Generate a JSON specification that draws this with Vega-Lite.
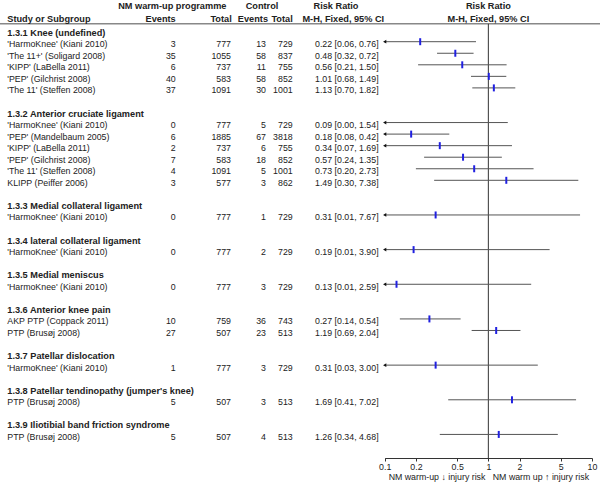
{
  "$schema": "https://vega.github.io/schema/vega-lite/v6.json",
  "width": 600,
  "height": 458,
  "autosize": "none",
  "padding": {"left": 0, "right": 0, "top": 0, "bottom": 30},
  "background": "white",
  "config": {
    "view": {"stroke": null},
    "text": {"font": "Liberation Sans", "fontSize": 8.8, "color": "#222", "dy": 2.5}
  },
  "datasets": {
    "studies": [
      {"row": 1, "study": "'HarmoKnee' (Kiani 2010)", "e1": 3, "n1": 777, "e2": 13, "n2": 729, "rr": 0.22, "lo": 0.06, "hi": 0.76, "ci": "0.22 [0.06, 0.76]"},
      {"row": 2, "study": "'The 11+' (Soligard 2008)", "e1": 35, "n1": 1055, "e2": 58, "n2": 837, "rr": 0.48, "lo": 0.32, "hi": 0.72, "ci": "0.48 [0.32, 0.72]"},
      {"row": 3, "study": "'KIPP' (LaBella 2011)", "e1": 6, "n1": 737, "e2": 11, "n2": 755, "rr": 0.56, "lo": 0.21, "hi": 1.5, "ci": "0.56 [0.21, 1.50]"},
      {"row": 4, "study": "'PEP' (Gilchrist 2008)", "e1": 40, "n1": 583, "e2": 58, "n2": 852, "rr": 1.01, "lo": 0.68, "hi": 1.49, "ci": "1.01 [0.68, 1.49]"},
      {"row": 5, "study": "'The 11' (Steffen 2008)", "e1": 37, "n1": 1091, "e2": 30, "n2": 1001, "rr": 1.13, "lo": 0.7, "hi": 1.82, "ci": "1.13 [0.70, 1.82]"},
      {"row": 8, "study": "'HarmoKnee' (Kiani 2010)", "e1": 0, "n1": 777, "e2": 5, "n2": 729, "rr": 0.09, "lo": 0.0, "hi": 1.54, "ci": "0.09 [0.00, 1.54]"},
      {"row": 9, "study": "'PEP' (Mandelbaum 2005)", "e1": 6, "n1": 1885, "e2": 67, "n2": 3818, "rr": 0.18, "lo": 0.08, "hi": 0.42, "ci": "0.18 [0.08, 0.42]"},
      {"row": 10, "study": "'KIPP' (LaBella 2011)", "e1": 2, "n1": 737, "e2": 6, "n2": 755, "rr": 0.34, "lo": 0.07, "hi": 1.69, "ci": "0.34 [0.07, 1.69]"},
      {"row": 11, "study": "'PEP' (Gilchrist 2008)", "e1": 7, "n1": 583, "e2": 18, "n2": 852, "rr": 0.57, "lo": 0.24, "hi": 1.35, "ci": "0.57 [0.24, 1.35]"},
      {"row": 12, "study": "'The 11' (Steffen 2008)", "e1": 4, "n1": 1091, "e2": 5, "n2": 1001, "rr": 0.73, "lo": 0.2, "hi": 2.73, "ci": "0.73 [0.20, 2.73]"},
      {"row": 13, "study": "KLIPP (Peiffer 2006)", "e1": 3, "n1": 577, "e2": 3, "n2": 862, "rr": 1.49, "lo": 0.3, "hi": 7.38, "ci": "1.49 [0.30, 7.38]"},
      {"row": 16, "study": "'HarmoKnee' (Kiani 2010)", "e1": 0, "n1": 777, "e2": 1, "n2": 729, "rr": 0.31, "lo": 0.01, "hi": 7.67, "ci": "0.31 [0.01, 7.67]"},
      {"row": 19, "study": "'HarmoKnee' (Kiani 2010)", "e1": 0, "n1": 777, "e2": 2, "n2": 729, "rr": 0.19, "lo": 0.01, "hi": 3.9, "ci": "0.19 [0.01, 3.90]"},
      {"row": 22, "study": "'HarmoKnee' (Kiani 2010)", "e1": 0, "n1": 777, "e2": 3, "n2": 729, "rr": 0.13, "lo": 0.01, "hi": 2.59, "ci": "0.13 [0.01, 2.59]"},
      {"row": 25, "study": "AKP PTP (Coppack 2011)", "e1": 10, "n1": 759, "e2": 36, "n2": 743, "rr": 0.27, "lo": 0.14, "hi": 0.54, "ci": "0.27 [0.14, 0.54]"},
      {"row": 26, "study": "PTP (Brusøj 2008)", "e1": 27, "n1": 507, "e2": 23, "n2": 513, "rr": 1.19, "lo": 0.69, "hi": 2.04, "ci": "1.19 [0.69, 2.04]"},
      {"row": 29, "study": "'HarmoKnee' (Kiani 2010)", "e1": 1, "n1": 777, "e2": 3, "n2": 729, "rr": 0.31, "lo": 0.03, "hi": 3.0, "ci": "0.31 [0.03, 3.00]"},
      {"row": 32, "study": "PTP (Brusøj 2008)", "e1": 5, "n1": 507, "e2": 3, "n2": 513, "rr": 1.69, "lo": 0.41, "hi": 7.02, "ci": "1.69 [0.41, 7.02]"},
      {"row": 35, "study": "PTP (Brusøj 2008)", "e1": 5, "n1": 507, "e2": 4, "n2": 513, "rr": 1.26, "lo": 0.34, "hi": 4.68, "ci": "1.26 [0.34, 4.68]"}
    ],
    "sections": [
      {"row": 0, "title": "1.3.1 Knee (undefined)"},
      {"row": 7, "title": "1.3.2 Anterior cruciate ligament"},
      {"row": 15, "title": "1.3.3 Medial collateral ligament"},
      {"row": 18, "title": "1.3.4 lateral collateral ligament"},
      {"row": 21, "title": "1.3.5 Medial meniscus"},
      {"row": 24, "title": "1.3.6 Anterior knee pain"},
      {"row": 28, "title": "1.3.7 Patellar dislocation"},
      {"row": 31, "title": "1.3.8 Patellar tendinopathy (jumper's knee)"},
      {"row": 34, "title": "1.3.9 Iliotibial band friction syndrome"}
    ]
  },
  "layer": [
    {
      "data": {"values": [{}]},
      "mark": {"type": "rule", "color": "#888", "strokeWidth": 1.5},
      "encoding": {
        "y": {"datum": -0.55, "type": "quantitative", "scale": {"domain": [-2.61, 37.04], "reverse": true, "nice": false, "zero": false}, "axis": null}
      }
    },
    {
      "data": {"values": [{}]},
      "mark": {"type": "rule", "color": "#333", "strokeWidth": 1},
      "encoding": {
        "x": {"datum": 1, "type": "quantitative", "scale": {"type": "log", "domain": [0.1, 10], "range": [384.7, 592], "nice": false},
          "axis": {"orient": "bottom", "grid": false, "values": [0.1, 0.2, 0.5, 1, 2, 5, 10], "format": "~g", "domainColor": "#333", "tickColor": "#333", "tickSize": 3, "labelFont": "Liberation Sans", "labelFontSize": 8.8, "labelColor": "#222", "labelPadding": 1, "labelFlush": false, "labelOverlap": false, "title": "NM warm-up ↓ injury risk\u00a0\u00a0\u00a0NM warm up ↑ injury risk", "titleFont": "Liberation Sans", "titleFontSize": 8.8, "titleFontWeight": "normal", "titleColor": "#222", "titlePadding": 2}},
        "y": {"datum": -0.55, "type": "quantitative", "scale": {"domain": [-2.61, 37.04], "reverse": true, "nice": false, "zero": false}, "axis": null},
        "y2": {"datum": 37.04}
      }
    },
    {
      "data": {"name": "studies"},
      "mark": {"type": "rule", "color": "#555", "strokeWidth": 1, "invalid": "show"},
      "encoding": {
        "x": {"field": "lo", "type": "quantitative", "scale": {"type": "log", "domain": [0.1, 10], "range": [384.7, 592], "nice": false, "clamp": true}, "axis": null},
        "x2": {"field": "hi"},
        "y": {"field": "row", "type": "quantitative", "scale": {"domain": [-2.61, 37.04], "reverse": true, "nice": false, "zero": false}, "axis": null}
      }
    },
    {
      "data": {"name": "studies"},
      "transform": [{"filter": "datum.lo < 0.1"}],
      "mark": {"type": "point", "shape": "triangle-left", "filled": true, "color": "#111", "size": 14, "opacity": 1},
      "encoding": {
        "x": {"datum": 0.1, "type": "quantitative", "scale": {"type": "log", "domain": [0.1, 10], "range": [384.7, 592], "nice": false}, "axis": null},
        "y": {"field": "row", "type": "quantitative", "scale": {"domain": [-2.61, 37.04], "reverse": true, "nice": false, "zero": false}, "axis": null}
      }
    },
    {
      "data": {"name": "studies"},
      "transform": [{"filter": "datum.rr >= 0.1"}],
      "mark": {"type": "tick", "orient": "vertical", "color": "#2020e0", "thickness": 2, "size": 7, "opacity": 1},
      "encoding": {
        "x": {"field": "rr", "type": "quantitative", "scale": {"type": "log", "domain": [0.1, 10], "range": [384.7, 592], "nice": false}, "axis": null},
        "y": {"field": "row", "type": "quantitative", "scale": {"domain": [-2.61, 37.04], "reverse": true, "nice": false, "zero": false}, "axis": null}
      }
    },
    {
      "data": {"name": "studies"},
      "mark": {"type": "text", "align": "left"},
      "encoding": {
        "x": {"datum": "study", "type": "nominal", "scale": {"type": "point", "domain": ["study"], "range": [7.3, 7.3]}, "axis": null},
        "y": {"field": "row", "type": "quantitative", "scale": {"domain": [-2.61, 37.04], "reverse": true, "nice": false, "zero": false}, "axis": null},
        "text": {"field": "study"}
      }
    },
    {
      "data": {"name": "sections"},
      "mark": {"type": "text", "align": "left", "fontWeight": "bold", "fontSize": 9.2},
      "encoding": {
        "x": {"datum": "section", "type": "nominal", "scale": {"type": "point", "domain": ["section"], "range": [7.3, 7.3]}, "axis": null},
        "y": {"field": "row", "type": "quantitative", "scale": {"domain": [-2.61, 37.04], "reverse": true, "nice": false, "zero": false}, "axis": null},
        "text": {"field": "title"}
      }
    },
    {
      "data": {"name": "studies"},
      "mark": {"type": "text", "align": "right"},
      "encoding": {
        "x": {"datum": "e1", "type": "nominal", "scale": {"type": "point", "domain": ["e1"], "range": [175.7, 175.7]}, "axis": null},
        "y": {"field": "row", "type": "quantitative", "scale": {"domain": [-2.61, 37.04], "reverse": true, "nice": false, "zero": false}, "axis": null},
        "text": {"field": "e1"}
      }
    },
    {
      "data": {"name": "studies"},
      "mark": {"type": "text", "align": "right"},
      "encoding": {
        "x": {"datum": "n1", "type": "nominal", "scale": {"type": "point", "domain": ["n1"], "range": [231, 231]}, "axis": null},
        "y": {"field": "row", "type": "quantitative", "scale": {"domain": [-2.61, 37.04], "reverse": true, "nice": false, "zero": false}, "axis": null},
        "text": {"field": "n1"}
      }
    },
    {
      "data": {"name": "studies"},
      "mark": {"type": "text", "align": "right"},
      "encoding": {
        "x": {"datum": "e2", "type": "nominal", "scale": {"type": "point", "domain": ["e2"], "range": [266, 266]}, "axis": null},
        "y": {"field": "row", "type": "quantitative", "scale": {"domain": [-2.61, 37.04], "reverse": true, "nice": false, "zero": false}, "axis": null},
        "text": {"field": "e2"}
      }
    },
    {
      "data": {"name": "studies"},
      "mark": {"type": "text", "align": "right"},
      "encoding": {
        "x": {"datum": "n2", "type": "nominal", "scale": {"type": "point", "domain": ["n2"], "range": [292.7, 292.7]}, "axis": null},
        "y": {"field": "row", "type": "quantitative", "scale": {"domain": [-2.61, 37.04], "reverse": true, "nice": false, "zero": false}, "axis": null},
        "text": {"field": "n2"}
      }
    },
    {
      "data": {"name": "studies"},
      "mark": {"type": "text", "align": "left"},
      "encoding": {
        "x": {"datum": "ci", "type": "nominal", "scale": {"type": "point", "domain": ["ci"], "range": [315, 315]}, "axis": null},
        "y": {"field": "row", "type": "quantitative", "scale": {"domain": [-2.61, 37.04], "reverse": true, "nice": false, "zero": false}, "axis": null},
        "text": {"field": "ci"}
      }
    },
    {
      "data": {"values": [{"label": "NM warm-up programme"}]},
      "mark": {"type": "text", "align": "center", "fontWeight": "bold", "fontSize": 9.2},
      "encoding": {
        "x": {"datum": "hnm", "type": "nominal", "scale": {"type": "point", "domain": ["hnm"], "range": [172.3, 172.3]}, "axis": null},
        "y": {"datum": -2.29, "type": "quantitative", "scale": {"domain": [-2.61, 37.04], "reverse": true, "nice": false, "zero": false}, "axis": null},
        "text": {"field": "label"}
      }
    },
    {
      "data": {"values": [{"label": "Control"}]},
      "mark": {"type": "text", "align": "center", "fontWeight": "bold", "fontSize": 9.2},
      "encoding": {
        "x": {"datum": "hc", "type": "nominal", "scale": {"type": "point", "domain": ["hc"], "range": [262, 262]}, "axis": null},
        "y": {"datum": -2.29, "type": "quantitative", "scale": {"domain": [-2.61, 37.04], "reverse": true, "nice": false, "zero": false}, "axis": null},
        "text": {"field": "label"}
      }
    },
    {
      "data": {"values": [{"label": "Risk Ratio"}]},
      "mark": {"type": "text", "align": "center", "fontWeight": "bold", "fontSize": 9.2},
      "encoding": {
        "x": {"datum": "hrr", "type": "nominal", "scale": {"type": "point", "domain": ["hrr"], "range": [336, 336]}, "axis": null},
        "y": {"datum": -2.29, "type": "quantitative", "scale": {"domain": [-2.61, 37.04], "reverse": true, "nice": false, "zero": false}, "axis": null},
        "text": {"field": "label"}
      }
    },
    {
      "data": {"values": [{"label": "M-H, Fixed, 95% CI"}]},
      "mark": {"type": "text", "align": "center", "fontWeight": "bold", "fontSize": 9.2},
      "encoding": {
        "x": {"datum": "hmh", "type": "nominal", "scale": {"type": "point", "domain": ["hmh"], "range": [343.3, 343.3]}, "axis": null},
        "y": {"datum": -1.2, "type": "quantitative", "scale": {"domain": [-2.61, 37.04], "reverse": true, "nice": false, "zero": false}, "axis": null},
        "text": {"field": "label"}
      }
    },
    {
      "data": {"values": [{"label": "Study or Subgroup"}]},
      "mark": {"type": "text", "align": "left", "fontWeight": "bold", "fontSize": 9.2},
      "encoding": {
        "x": {"datum": "hs", "type": "nominal", "scale": {"type": "point", "domain": ["hs"], "range": [7.3, 7.3]}, "axis": null},
        "y": {"datum": -1.2, "type": "quantitative", "scale": {"domain": [-2.61, 37.04], "reverse": true, "nice": false, "zero": false}, "axis": null},
        "text": {"field": "label"}
      }
    },
    {
      "data": {"values": [{"label": "Events"}]},
      "mark": {"type": "text", "align": "right", "fontWeight": "bold", "fontSize": 9.2},
      "encoding": {
        "x": {"datum": "he1", "type": "nominal", "scale": {"type": "point", "domain": ["he1"], "range": [175.7, 175.7]}, "axis": null},
        "y": {"datum": -1.2, "type": "quantitative", "scale": {"domain": [-2.61, 37.04], "reverse": true, "nice": false, "zero": false}, "axis": null},
        "text": {"field": "label"}
      }
    },
    {
      "data": {"values": [{"label": "Total"}]},
      "mark": {"type": "text", "align": "right", "fontWeight": "bold", "fontSize": 9.2},
      "encoding": {
        "x": {"datum": "hn1", "type": "nominal", "scale": {"type": "point", "domain": ["hn1"], "range": [231.7, 231.7]}, "axis": null},
        "y": {"datum": -1.2, "type": "quantitative", "scale": {"domain": [-2.61, 37.04], "reverse": true, "nice": false, "zero": false}, "axis": null},
        "text": {"field": "label"}
      }
    },
    {
      "data": {"values": [{"label": "Events"}]},
      "mark": {"type": "text", "align": "right", "fontWeight": "bold", "fontSize": 9.2},
      "encoding": {
        "x": {"datum": "he2", "type": "nominal", "scale": {"type": "point", "domain": ["he2"], "range": [268, 268]}, "axis": null},
        "y": {"datum": -1.2, "type": "quantitative", "scale": {"domain": [-2.61, 37.04], "reverse": true, "nice": false, "zero": false}, "axis": null},
        "text": {"field": "label"}
      }
    },
    {
      "data": {"values": [{"label": "Total"}]},
      "mark": {"type": "text", "align": "right", "fontWeight": "bold", "fontSize": 9.2},
      "encoding": {
        "x": {"datum": "hn2", "type": "nominal", "scale": {"type": "point", "domain": ["hn2"], "range": [292.7, 292.7]}, "axis": null},
        "y": {"datum": -1.2, "type": "quantitative", "scale": {"domain": [-2.61, 37.04], "reverse": true, "nice": false, "zero": false}, "axis": null},
        "text": {"field": "label"}
      }
    },
    {
      "data": {"values": [{"label": "Risk Ratio"}]},
      "mark": {"type": "text", "align": "center", "fontWeight": "bold", "fontSize": 9.2},
      "encoding": {
        "x": {"datum": 1, "type": "quantitative", "scale": {"type": "log", "domain": [0.1, 10], "range": [384.7, 592], "nice": false}, "axis": null},
        "y": {"datum": -2.29, "type": "quantitative", "scale": {"domain": [-2.61, 37.04], "reverse": true, "nice": false, "zero": false}, "axis": null},
        "text": {"field": "label"}
      }
    },
    {
      "data": {"values": [{"label": "M-H, Fixed, 95% CI"}]},
      "mark": {"type": "text", "align": "center", "fontWeight": "bold", "fontSize": 9.2},
      "encoding": {
        "x": {"datum": 1, "type": "quantitative", "scale": {"type": "log", "domain": [0.1, 10], "range": [384.7, 592], "nice": false}, "axis": null},
        "y": {"datum": -1.2, "type": "quantitative", "scale": {"domain": [-2.61, 37.04], "reverse": true, "nice": false, "zero": false}, "axis": null},
        "text": {"field": "label"}
      }
    }
  ],
  "resolve": {"scale": {"x": "independent"}, "axis": {"x": "independent"}}
}
